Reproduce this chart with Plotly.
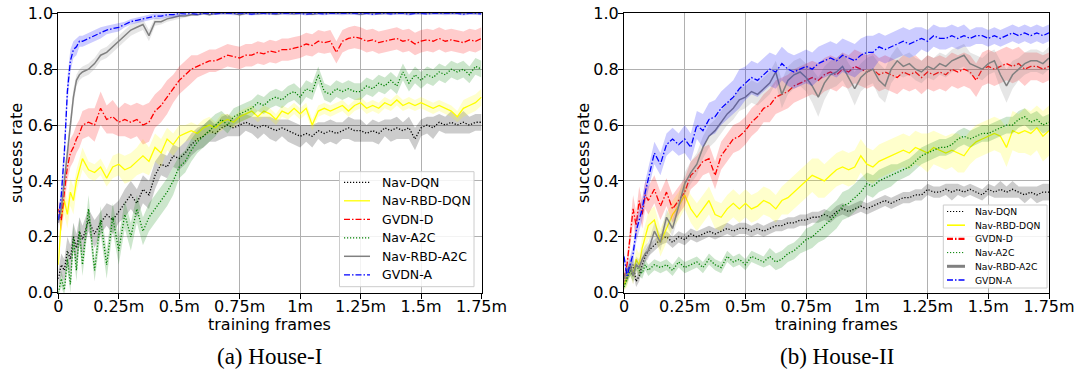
import plotly.graph_objects as go

# ---------------- data (training frames in millions) ----------------
frames_m = [0, 0.0125, 0.025, 0.0375, 0.05, 0.0625, 0.075, 0.0875, 0.1,
            0.125, 0.15, 0.175, 0.2, 0.225, 0.25, 0.275, 0.3,
            0.325, 0.35, 0.375, 0.4, 0.425, 0.45, 0.475, 0.5,
            0.525, 0.55, 0.575, 0.6, 0.625, 0.65, 0.675, 0.7,
            0.725, 0.75, 0.775, 0.8, 0.825, 0.85, 0.875, 0.9,
            0.925, 0.95, 0.975, 1.0, 1.025, 1.05, 1.075, 1.1,
            1.125, 1.15, 1.175, 1.2, 1.225, 1.25, 1.275, 1.3,
            1.325, 1.35, 1.375, 1.4, 1.425, 1.45, 1.475, 1.5,
            1.525, 1.55, 1.575, 1.6, 1.625, 1.65, 1.675, 1.7,
            1.725, 1.75]

x_tickvals = [0, 0.25, 0.5, 0.75, 1.0, 1.25, 1.5, 1.75]
x_ticktext = ["0", "0.25m", "0.5m", "0.75m", "1m", "1.25m", "1.5m", "1.75m"]
y_tickvals = [0, 0.2, 0.4, 0.6, 0.8, 1.0]
y_ticktext = ["0.0", "0.2", "0.4", "0.6", "0.8", "1.0"]

series_names = ["Nav-DQN", "Nav-RBD-DQN", "GVDN-D", "Nav-A2C", "Nav-RBD-A2C", "GVDN-A"]
panel_titles = ["(a) House-I", "(b) House-II"]

# ---- House-I ----
h1_nav_dqn = [0.05, 0.10, 0.08, 0.15, 0.12, 0.20, 0.16, 0.22, 0.19,
              0.26, 0.21, 0.25, 0.28, 0.26, 0.29, 0.32, 0.35,
              0.32, 0.37, 0.35, 0.42, 0.46, 0.45, 0.49, 0.48,
              0.50, 0.53, 0.55, 0.56, 0.58, 0.57, 0.59, 0.60,
              0.59, 0.60, 0.61, 0.60, 0.59, 0.60, 0.59, 0.58,
              0.59, 0.58, 0.57, 0.56, 0.57, 0.56, 0.58, 0.57,
              0.58, 0.57, 0.58, 0.59, 0.58, 0.58, 0.57, 0.58,
              0.57, 0.59, 0.58, 0.59, 0.58, 0.59, 0.55, 0.59,
              0.60, 0.59, 0.61, 0.60, 0.61, 0.60, 0.61, 0.60,
              0.61, 0.61]
h1_nav_dqn_sd = [0.03, 0.04, 0.04, 0.05, 0.05, 0.05, 0.05, 0.05, 0.05,
                 0.04, 0.05, 0.04, 0.04, 0.05, 0.04, 0.05, 0.05,
                 0.05, 0.05, 0.05, 0.05, 0.04, 0.04, 0.04, 0.04,
                 0.04, 0.04, 0.04, 0.04, 0.04, 0.03, 0.04, 0.04,
                 0.03, 0.04, 0.03, 0.03, 0.04, 0.03, 0.04, 0.04,
                 0.03, 0.04, 0.04, 0.04, 0.03, 0.04, 0.03, 0.04,
                 0.04, 0.04, 0.03, 0.04, 0.04, 0.04, 0.03, 0.04,
                 0.04, 0.03, 0.04, 0.04, 0.03, 0.04, 0.04, 0.03,
                 0.03, 0.04, 0.03, 0.03, 0.04, 0.03, 0.04, 0.03,
                 0.03, 0.03]

h1_nav_rbd_dqn = [0.10, 0.27, 0.33, 0.28, 0.36, 0.33, 0.40, 0.44, 0.48,
                  0.44, 0.43, 0.45, 0.41, 0.45, 0.46, 0.44, 0.45,
                  0.47, 0.49, 0.47, 0.52, 0.50, 0.55, 0.53, 0.56,
                  0.57, 0.58, 0.57, 0.59, 0.60, 0.59, 0.61, 0.62,
                  0.61, 0.63, 0.64, 0.65, 0.63, 0.65, 0.64, 0.62,
                  0.65, 0.64, 0.66, 0.64, 0.66, 0.60, 0.65, 0.66,
                  0.65, 0.66, 0.67, 0.65, 0.67, 0.68, 0.66, 0.67,
                  0.66, 0.68, 0.67, 0.69, 0.67, 0.68, 0.67, 0.68,
                  0.67, 0.66, 0.67, 0.66, 0.65, 0.63, 0.66, 0.67,
                  0.68, 0.70]
h1_nav_rbd_dqn_sd = [0.02, 0.05, 0.05, 0.05, 0.05, 0.05, 0.04, 0.04, 0.04,
                     0.03, 0.03, 0.03, 0.03, 0.04, 0.04, 0.05, 0.05,
                     0.05, 0.06, 0.05, 0.05, 0.05, 0.04, 0.04, 0.04,
                     0.03, 0.03, 0.03, 0.03, 0.03, 0.02, 0.03, 0.02,
                     0.02, 0.02, 0.02, 0.02, 0.02, 0.02, 0.02, 0.02,
                     0.02, 0.02, 0.02, 0.02, 0.02, 0.02, 0.02, 0.02,
                     0.02, 0.02, 0.02, 0.02, 0.02, 0.02, 0.02, 0.02,
                     0.02, 0.02, 0.02, 0.02, 0.02, 0.02, 0.02, 0.02,
                     0.02, 0.02, 0.02, 0.02, 0.02, 0.02, 0.03, 0.03,
                     0.03, 0.03]

h1_gvdn_d = [0.30, 0.26, 0.36, 0.45, 0.50, 0.52, 0.55, 0.57, 0.60,
             0.61, 0.60, 0.66, 0.62, 0.63, 0.61, 0.62, 0.61,
             0.62, 0.60, 0.61, 0.65, 0.67, 0.70, 0.73, 0.76,
             0.78, 0.80, 0.81, 0.82, 0.83, 0.83, 0.84, 0.85,
             0.845, 0.84, 0.85, 0.85, 0.86, 0.855, 0.865, 0.86,
             0.87, 0.87, 0.875, 0.88, 0.89, 0.885, 0.90, 0.895,
             0.90, 0.86, 0.90, 0.91, 0.915, 0.91, 0.90, 0.905,
             0.895, 0.90, 0.905, 0.91, 0.90, 0.905, 0.89, 0.90,
             0.905, 0.90, 0.91, 0.90, 0.905, 0.90, 0.895, 0.905,
             0.90, 0.91]
h1_gvdn_d_sd = [0.03, 0.04, 0.05, 0.05, 0.05, 0.05, 0.05, 0.05, 0.05,
                0.05, 0.06, 0.06, 0.05, 0.06, 0.05, 0.06, 0.06,
                0.06, 0.07, 0.07, 0.06, 0.06, 0.06, 0.05, 0.05,
                0.05, 0.05, 0.04, 0.04, 0.04, 0.04, 0.04, 0.04,
                0.04, 0.04, 0.04, 0.04, 0.04, 0.04, 0.04, 0.04,
                0.04, 0.04, 0.04, 0.04, 0.04, 0.04, 0.04, 0.04,
                0.04, 0.04, 0.04, 0.04, 0.04, 0.04, 0.04, 0.04,
                0.04, 0.04, 0.04, 0.04, 0.04, 0.04, 0.04, 0.04,
                0.04, 0.04, 0.04, 0.04, 0.04, 0.04, 0.04, 0.04,
                0.04, 0.04]

h1_nav_a2c = [0.00, 0.05, 0.01, 0.12, 0.03, 0.20, 0.08, 0.22, 0.10,
              0.30, 0.08, 0.26, 0.10, 0.27, 0.15, 0.28, 0.20,
              0.30, 0.22, 0.27, 0.30, 0.33, 0.36, 0.40, 0.45,
              0.47, 0.51, 0.54, 0.56, 0.58, 0.60, 0.62, 0.60,
              0.63, 0.64, 0.65, 0.66, 0.68, 0.67, 0.69, 0.70,
              0.69, 0.71, 0.72, 0.70, 0.73, 0.72, 0.78, 0.72,
              0.71, 0.73, 0.72, 0.73, 0.72, 0.72, 0.74, 0.73,
              0.75, 0.74, 0.76, 0.74, 0.79, 0.75, 0.78, 0.76,
              0.78, 0.77, 0.79, 0.78, 0.80, 0.79, 0.80, 0.78,
              0.81, 0.80]
h1_nav_a2c_sd = [0.01, 0.03, 0.02, 0.04, 0.03, 0.05, 0.04, 0.05, 0.04,
                 0.05, 0.04, 0.05, 0.05, 0.05, 0.05, 0.05, 0.05,
                 0.05, 0.05, 0.05, 0.05, 0.05, 0.05, 0.05, 0.04,
                 0.04, 0.04, 0.04, 0.04, 0.04, 0.04, 0.03, 0.03,
                 0.03, 0.03, 0.03, 0.03, 0.03, 0.03, 0.03, 0.03,
                 0.03, 0.03, 0.03, 0.03, 0.03, 0.03, 0.03, 0.03,
                 0.03, 0.03, 0.03, 0.03, 0.03, 0.03, 0.03, 0.03,
                 0.03, 0.03, 0.03, 0.03, 0.03, 0.03, 0.03, 0.03,
                 0.03, 0.03, 0.03, 0.03, 0.03, 0.03, 0.03, 0.03,
                 0.03, 0.03]

h1_nav_rbd_a2c = [0.25, 0.30, 0.40, 0.50, 0.60, 0.70, 0.76, 0.78, 0.79,
                  0.80, 0.82, 0.85, 0.86, 0.88, 0.90, 0.92, 0.94,
                  0.95, 0.96, 0.92, 0.97, 0.97, 0.98, 0.985, 0.99,
                  0.99, 0.995, 0.995, 1.0, 0.995, 1.0, 1.0, 1.0,
                  1.0, 0.995, 1.0, 1.0, 0.998, 1.0, 1.0, 0.997,
                  1.0, 1.0, 0.998, 1.0, 1.0, 0.997, 1.0, 1.0,
                  1.0, 0.998, 1.0, 1.0, 1.0, 0.997, 1.0, 1.0,
                  0.998, 1.0, 1.0, 1.0, 0.998, 1.0, 1.0, 1.0,
                  1.0, 0.998, 1.0, 1.0, 1.0, 0.998, 1.0, 1.0,
                  1.0, 1.0]
h1_nav_rbd_a2c_sd = [0.02, 0.03, 0.03, 0.03, 0.03, 0.03, 0.02, 0.02, 0.02,
                     0.02, 0.02, 0.02, 0.02, 0.02, 0.02, 0.02, 0.02,
                     0.02, 0.02, 0.02, 0.015, 0.01, 0.01, 0.01, 0.01,
                     0.005, 0.005, 0.005, 0.005, 0.005, 0.005, 0.005, 0.005,
                     0.005, 0.005, 0.005, 0.005, 0.005, 0.005, 0.005, 0.005,
                     0.005, 0.005, 0.005, 0.005, 0.005, 0.005, 0.005, 0.005,
                     0.005, 0.005, 0.005, 0.005, 0.005, 0.005, 0.005, 0.005,
                     0.005, 0.005, 0.005, 0.005, 0.005, 0.005, 0.005, 0.005,
                     0.005, 0.005, 0.005, 0.005, 0.005, 0.005, 0.005, 0.005,
                     0.005, 0.005]

h1_gvdn_a = [0.26, 0.35, 0.50, 0.72, 0.83, 0.87, 0.88, 0.90, 0.90,
             0.91, 0.92, 0.93, 0.94, 0.945, 0.95, 0.96, 0.97,
             0.975, 0.98, 0.985, 0.99, 0.99, 0.995, 0.995, 1.0,
             0.998, 1.0, 0.997, 1.0, 1.0, 0.998, 1.0, 1.0,
             0.998, 1.0, 1.0, 0.997, 1.0, 1.0, 0.998, 1.0,
             1.0, 0.998, 1.0, 1.0, 0.997, 1.0, 1.0, 0.998,
             1.0, 1.0, 0.998, 1.0, 1.0, 0.998, 1.0, 0.997,
             1.0, 1.0, 0.998, 1.0, 1.0, 0.997, 1.0, 1.0,
             0.998, 1.0, 1.0, 0.998, 1.0, 1.0, 0.997, 1.0,
             1.0, 0.998]
h1_gvdn_a_sd = [0.02, 0.04, 0.05, 0.05, 0.04, 0.03, 0.03, 0.02, 0.02,
                0.02, 0.02, 0.02, 0.015, 0.015, 0.015, 0.01, 0.01,
                0.01, 0.01, 0.01, 0.01, 0.01, 0.01, 0.01, 0.01,
                0.005, 0.005, 0.005, 0.005, 0.005, 0.005, 0.005, 0.005,
                0.005, 0.005, 0.005, 0.005, 0.005, 0.005, 0.005, 0.005,
                0.005, 0.005, 0.005, 0.005, 0.005, 0.005, 0.005, 0.005,
                0.005, 0.005, 0.005, 0.005, 0.005, 0.005, 0.005, 0.005,
                0.005, 0.005, 0.005, 0.005, 0.005, 0.005, 0.005, 0.005,
                0.005, 0.005, 0.005, 0.005, 0.005, 0.005, 0.005, 0.005,
                0.005, 0.005]

# ---- House-II ----
h2_nav_dqn = [0.03, 0.06, 0.08, 0.10, 0.04, 0.06, 0.10, 0.13, 0.15,
              0.17, 0.19, 0.20, 0.18, 0.20, 0.19, 0.21, 0.20,
              0.21, 0.22, 0.21, 0.22, 0.23, 0.22, 0.23, 0.23,
              0.22, 0.23, 0.22, 0.23, 0.24, 0.24, 0.25, 0.25,
              0.26, 0.26, 0.27, 0.27, 0.28, 0.27, 0.29, 0.30,
              0.29, 0.30, 0.31, 0.30, 0.31, 0.32, 0.33, 0.32,
              0.33, 0.34, 0.34, 0.35, 0.35, 0.37, 0.36, 0.36,
              0.37, 0.36, 0.37, 0.36, 0.37, 0.36, 0.35, 0.37,
              0.36, 0.37, 0.36, 0.37, 0.36, 0.35, 0.36, 0.35,
              0.36, 0.36]
h2_nav_dqn_sd = [0.01, 0.02, 0.02, 0.03, 0.02, 0.02, 0.02, 0.02, 0.02,
                 0.02, 0.02, 0.02, 0.02, 0.02, 0.02, 0.02, 0.02,
                 0.02, 0.02, 0.02, 0.02, 0.02, 0.02, 0.02, 0.02,
                 0.02, 0.02, 0.02, 0.02, 0.02, 0.02, 0.02, 0.02,
                 0.02, 0.02, 0.02, 0.02, 0.02, 0.02, 0.02, 0.02,
                 0.02, 0.02, 0.02, 0.02, 0.02, 0.02, 0.02, 0.02,
                 0.02, 0.02, 0.02, 0.02, 0.02, 0.02, 0.02, 0.02,
                 0.02, 0.03, 0.02, 0.02, 0.02, 0.02, 0.02, 0.02,
                 0.02, 0.03, 0.02, 0.03, 0.02, 0.03, 0.02, 0.03,
                 0.03, 0.03]

h2_nav_rbd_dqn = [0.03, 0.05, 0.09, 0.06, 0.12, 0.10, 0.16, 0.20, 0.24,
                  0.26, 0.18, 0.23, 0.28, 0.31, 0.35, 0.30, 0.27,
                  0.30, 0.33, 0.28, 0.27, 0.30, 0.32, 0.30, 0.32,
                  0.30, 0.31, 0.33, 0.32, 0.30, 0.33, 0.34, 0.36,
                  0.38, 0.40, 0.42, 0.41, 0.40, 0.42, 0.44, 0.45,
                  0.44, 0.45, 0.49, 0.46, 0.45, 0.47, 0.48, 0.49,
                  0.50, 0.51, 0.50, 0.52, 0.51, 0.50, 0.52, 0.51,
                  0.50, 0.51, 0.50, 0.49, 0.52, 0.54, 0.55, 0.56,
                  0.57, 0.56, 0.52, 0.58, 0.57, 0.58, 0.57, 0.59,
                  0.56, 0.58]
h2_nav_rbd_dqn_sd = [0.02, 0.03, 0.03, 0.03, 0.04, 0.04, 0.04, 0.05, 0.05,
                     0.05, 0.05, 0.05, 0.05, 0.05, 0.05, 0.05, 0.05,
                     0.05, 0.05, 0.05, 0.05, 0.05, 0.05, 0.05, 0.05,
                     0.05, 0.05, 0.05, 0.05, 0.05, 0.05, 0.06, 0.06,
                     0.06, 0.06, 0.06, 0.07, 0.06, 0.06, 0.06, 0.06,
                     0.06, 0.06, 0.06, 0.06, 0.06, 0.06, 0.06, 0.06,
                     0.06, 0.06, 0.06, 0.06, 0.06, 0.07, 0.06, 0.06,
                     0.06, 0.06, 0.07, 0.06, 0.06, 0.06, 0.06, 0.06,
                     0.06, 0.06, 0.07, 0.07, 0.07, 0.08, 0.08, 0.08,
                     0.09, 0.09]

h2_gvdn_d = [0.05, 0.10, 0.20, 0.30, 0.24, 0.33, 0.28, 0.35, 0.33,
             0.37, 0.31, 0.36, 0.30, 0.33, 0.36, 0.42, 0.44,
             0.47, 0.48, 0.42, 0.49, 0.52, 0.55, 0.56, 0.58,
             0.61, 0.63, 0.66, 0.67, 0.70, 0.71, 0.72, 0.74,
             0.75, 0.76, 0.77, 0.76, 0.78, 0.79, 0.78, 0.80,
             0.79, 0.81, 0.80, 0.79, 0.80, 0.78, 0.79, 0.78,
             0.77, 0.79, 0.78, 0.79, 0.77, 0.79, 0.78, 0.79,
             0.78, 0.80, 0.79, 0.80, 0.79, 0.76, 0.80, 0.81,
             0.80, 0.81, 0.82, 0.81, 0.82, 0.80, 0.81, 0.81,
             0.80, 0.81]
h2_gvdn_d_sd = [0.02, 0.03, 0.04, 0.05, 0.05, 0.05, 0.05, 0.05, 0.05,
                0.05, 0.05, 0.05, 0.05, 0.05, 0.05, 0.05, 0.05,
                0.05, 0.05, 0.05, 0.05, 0.05, 0.05, 0.05, 0.05,
                0.05, 0.05, 0.05, 0.06, 0.06, 0.06, 0.06, 0.06,
                0.06, 0.06, 0.06, 0.06, 0.06, 0.06, 0.06, 0.06,
                0.06, 0.06, 0.06, 0.06, 0.06, 0.06, 0.06, 0.06,
                0.06, 0.06, 0.06, 0.06, 0.06, 0.06, 0.06, 0.06,
                0.06, 0.06, 0.06, 0.06, 0.06, 0.06, 0.06, 0.06,
                0.06, 0.06, 0.06, 0.06, 0.06, 0.06, 0.05, 0.05,
                0.05, 0.05]

h2_nav_a2c = [0.02, 0.05, 0.08, 0.06, 0.10, 0.08, 0.07, 0.10, 0.08,
              0.10, 0.09, 0.10, 0.08, 0.11, 0.09, 0.10, 0.11,
              0.09, 0.12, 0.10, 0.09, 0.13, 0.11, 0.12, 0.10,
              0.13, 0.12, 0.11, 0.13, 0.11, 0.12, 0.14, 0.15,
              0.17, 0.19, 0.20, 0.22, 0.24, 0.26, 0.28, 0.31,
              0.32, 0.34, 0.36, 0.39, 0.38, 0.40, 0.41, 0.42,
              0.43, 0.44, 0.45, 0.47, 0.49, 0.50, 0.51, 0.52,
              0.52, 0.53, 0.55, 0.56, 0.55, 0.56, 0.57, 0.57,
              0.58, 0.59, 0.60, 0.60, 0.62, 0.63, 0.61, 0.62,
              0.60, 0.61]
h2_nav_a2c_sd = [0.01, 0.02, 0.02, 0.02, 0.02, 0.02, 0.02, 0.02, 0.02,
                 0.02, 0.02, 0.02, 0.02, 0.02, 0.02, 0.02, 0.02,
                 0.02, 0.02, 0.02, 0.02, 0.02, 0.02, 0.02, 0.02,
                 0.02, 0.02, 0.02, 0.03, 0.03, 0.03, 0.03, 0.03,
                 0.03, 0.04, 0.04, 0.04, 0.05, 0.05, 0.05, 0.05,
                 0.05, 0.05, 0.05, 0.04, 0.04, 0.04, 0.04, 0.04,
                 0.03, 0.03, 0.03, 0.03, 0.03, 0.03, 0.03, 0.03,
                 0.03, 0.03, 0.03, 0.03, 0.03, 0.03, 0.03, 0.03,
                 0.03, 0.03, 0.03, 0.03, 0.03, 0.03, 0.03, 0.03,
                 0.03, 0.03]

h2_nav_rbd_a2c = [0.05, 0.08, 0.10, 0.06, 0.10, 0.09, 0.12, 0.14, 0.15,
                  0.22, 0.18, 0.27, 0.23, 0.31, 0.39, 0.43, 0.46,
                  0.52, 0.56, 0.58, 0.61, 0.64, 0.66, 0.69, 0.70,
                  0.72, 0.71, 0.73, 0.75, 0.79, 0.71, 0.76, 0.78,
                  0.79, 0.77, 0.74, 0.70, 0.75, 0.78, 0.79, 0.81,
                  0.77, 0.73, 0.77, 0.79, 0.80, 0.76, 0.74, 0.80,
                  0.83, 0.81, 0.82, 0.80, 0.79, 0.81, 0.80, 0.82,
                  0.81, 0.83, 0.84, 0.85, 0.82, 0.81, 0.80, 0.82,
                  0.83, 0.78, 0.74, 0.78, 0.80, 0.82, 0.83, 0.83,
                  0.82, 0.84]
h2_nav_rbd_a2c_sd = [0.02, 0.02, 0.03, 0.03, 0.03, 0.03, 0.03, 0.03, 0.03,
                     0.03, 0.03, 0.03, 0.03, 0.04, 0.04, 0.04, 0.04,
                     0.04, 0.04, 0.04, 0.04, 0.04, 0.04, 0.04, 0.04,
                     0.04, 0.04, 0.04, 0.04, 0.04, 0.05, 0.05, 0.05,
                     0.05, 0.05, 0.06, 0.07, 0.06, 0.05, 0.05, 0.05,
                     0.05, 0.06, 0.05, 0.05, 0.05, 0.06, 0.06, 0.05,
                     0.05, 0.04, 0.04, 0.04, 0.04, 0.04, 0.04, 0.04,
                     0.04, 0.04, 0.04, 0.04, 0.04, 0.04, 0.04, 0.04,
                     0.04, 0.05, 0.06, 0.05, 0.04, 0.04, 0.04, 0.04,
                     0.04, 0.04]

h2_gvdn_a = [0.13, 0.06, 0.10, 0.14, 0.22, 0.26, 0.30, 0.36, 0.41,
             0.50, 0.46, 0.53, 0.55, 0.53, 0.55, 0.52, 0.60,
             0.58, 0.62, 0.63, 0.66, 0.68, 0.70, 0.73, 0.75,
             0.77, 0.76, 0.78, 0.80, 0.79, 0.82, 0.80, 0.79,
             0.80, 0.81, 0.80, 0.82, 0.83, 0.84, 0.83, 0.85,
             0.84, 0.83, 0.85, 0.86, 0.86, 0.88, 0.87, 0.88,
             0.89, 0.90, 0.89, 0.90, 0.91, 0.90, 0.92, 0.91,
             0.91, 0.92, 0.91, 0.92, 0.91, 0.92, 0.92, 0.91,
             0.92, 0.91, 0.92, 0.93, 0.92, 0.93, 0.92, 0.93,
             0.92, 0.93]
h2_gvdn_a_sd = [0.02, 0.02, 0.03, 0.03, 0.04, 0.04, 0.04, 0.04, 0.04,
                0.04, 0.04, 0.04, 0.04, 0.04, 0.05, 0.05, 0.05,
                0.06, 0.06, 0.06, 0.06, 0.06, 0.06, 0.07, 0.06,
                0.06, 0.06, 0.06, 0.06, 0.06, 0.06, 0.06, 0.06,
                0.06, 0.06, 0.06, 0.06, 0.06, 0.06, 0.06, 0.06,
                0.06, 0.06, 0.06, 0.06, 0.06, 0.05, 0.05, 0.05,
                0.05, 0.05, 0.05, 0.05, 0.04, 0.04, 0.04, 0.04,
                0.04, 0.04, 0.04, 0.04, 0.03, 0.03, 0.03, 0.03,
                0.03, 0.03, 0.03, 0.03, 0.03, 0.03, 0.03, 0.03,
                0.03, 0.03]

house1 = [(h1_nav_dqn, h1_nav_dqn_sd), (h1_nav_rbd_dqn, h1_nav_rbd_dqn_sd),
          (h1_gvdn_d, h1_gvdn_d_sd), (h1_nav_a2c, h1_nav_a2c_sd),
          (h1_nav_rbd_a2c, h1_nav_rbd_a2c_sd), (h1_gvdn_a, h1_gvdn_a_sd)]
house2 = [(h2_nav_dqn, h2_nav_dqn_sd), (h2_nav_rbd_dqn, h2_nav_rbd_dqn_sd),
          (h2_gvdn_d, h2_gvdn_d_sd), (h2_nav_a2c, h2_nav_a2c_sd),
          (h2_nav_rbd_a2c, h2_nav_rbd_a2c_sd), (h2_gvdn_a, h2_gvdn_a_sd)]

for grp in (house1, house2):
    for m, s in grp:
        if len(m) != len(frames_m) or len(s) != len(frames_m):
            raise ValueError("length mismatch %d %d" % (len(m), len(s)))

# ---------------- styles ----------------
line_colors = ["#000000", "#ffff00", "#ff0000", "#008000", "#808080", "#0000ff"]
band_colors = ["rgba(0,0,0,0.2)", "rgba(255,255,0,0.2)", "rgba(255,0,0,0.2)",
               "rgba(0,128,0,0.2)", "rgba(128,128,128,0.2)", "rgba(0,0,255,0.2)"]
DOT = "1.2px,1.8px"
DASHDOT = "6px,2px,1.5px,2px"
line_dashes = [DOT, "solid", DASHDOT, DOT, "solid", DASHDOT]
line_widths = [1.3, 1.3, 1.3, 1.3, 1.5, 1.3]

W, H = 1075, 378
def px_x(p):
    return p / W
def px_y(p):
    return 1 - p / H

fig = go.Figure()

panels = [
    dict(data=house1, xa="x", ya="y"),
    dict(data=house2, xa="x2", ya="y2"),
]

for pnl in panels:
    for k, (mean, sd) in enumerate(pnl["data"]):
        hi = [m + s for m, s in zip(mean, sd)]
        lo = [m - s for m, s in zip(mean, sd)]
        fig.add_trace(go.Scatter(
            x=frames_m + frames_m[::-1], y=hi + lo[::-1],
            fill="toself", fillcolor=band_colors[k],
            line=dict(width=0, color="rgba(0,0,0,0)"),
            mode="lines", showlegend=False, hoverinfo="skip",
            xaxis=pnl["xa"], yaxis=pnl["ya"]))
        fig.add_trace(go.Scatter(
            x=frames_m, y=mean, mode="lines", name=series_names[k],
            line=dict(color=line_colors[k], width=line_widths[k], dash=line_dashes[k]),
            xaxis=pnl["xa"], yaxis=pnl["ya"], showlegend=False))

axis_font = dict(family="DejaVu Sans", size=16, color="black")
common_x = dict(range=[0, 1.75], tickvals=x_tickvals, ticktext=x_ticktext,
                showgrid=True, gridcolor="#b0b0b0", gridwidth=1,
                showline=True, linecolor="black", linewidth=1, mirror=True,
                ticks="outside", ticklen=5, tickcolor="black", tickwidth=1,
                zeroline=False, tickfont=axis_font, automargin=False,
                ticklabelstandoff=-6, ticklabeloverflow="allow")
common_y = dict(range=[0, 1.0], tickvals=y_tickvals, ticktext=y_ticktext,
                showgrid=True, gridcolor="#b0b0b0", gridwidth=1,
                showline=True, linecolor="black", linewidth=1, mirror=True,
                ticks="outside", ticklen=5, tickcolor="black", tickwidth=1,
                zeroline=False, tickfont=axis_font, automargin=False,
                ticklabelstandoff=-4, ticklabeloverflow="allow")

y_dom = [px_y(292.7), px_y(13.3)]
fig.update_layout(
    width=W, height=H,
    margin=dict(l=0, r=0, t=0, b=0, autoexpand=False),
    paper_bgcolor="white", plot_bgcolor="white",
    font=dict(family="DejaVu Sans", color="black"),
    xaxis=dict(domain=[px_x(58.3), px_x(481.5)], anchor="y", **common_x),
    yaxis=dict(domain=y_dom, anchor="x", **common_y),
    xaxis2=dict(domain=[px_x(624), px_x(1049)], anchor="y2", **common_x),
    yaxis2=dict(domain=y_dom, anchor="x2", **common_y),
    showlegend=False,
)

shapes = []
annots = []

# ---- hand-built legends (matplotlib-like compact boxes) ----
legend_specs = [
    dict(box=(339.5, 474, 171.7, 286.7), line_x=(344, 370), text_x=380,
         row_y0=182.3, row_dy=18.5, size=12.5,
         widths=[1.3, 1.3, 1.3, 1.3, 1.5, 1.3]),
    dict(box=(943.3, 1047, 205, 288), line_x=(947, 965), text_x=973,
         row_y0=211.5, row_dy=13.7, size=9.2,
         widths=[1.0, 1.6, 2.2, 1.0, 3.0, 1.4]),
]
for spec in legend_specs:
    x0, x1, y0, y1 = spec["box"]
    shapes.append(dict(type="rect", xref="paper", yref="paper",
                       x0=px_x(x0), x1=px_x(x1), y0=px_y(y1), y1=px_y(y0),
                       line=dict(color="#cccccc", width=1),
                       fillcolor="rgba(255,255,255,0.85)", layer="above"))
    for k, name in enumerate(series_names):
        ry = spec["row_y0"] + k * spec["row_dy"]
        shapes.append(dict(type="line", xref="paper", yref="paper",
                           x0=px_x(spec["line_x"][0]), x1=px_x(spec["line_x"][1]),
                           y0=px_y(ry), y1=px_y(ry),
                           line=dict(color=line_colors[k], width=spec["widths"][k],
                                     dash=line_dashes[k]),
                           layer="above"))
        annots.append(dict(x=px_x(spec["text_x"]), y=px_y(ry), xref="paper", yref="paper",
                           text=name, showarrow=False, xanchor="left", yanchor="middle",
                           font=dict(family="DejaVu Sans", size=spec["size"], color="black")))

for cx, cap in [((58.3 + 481.5) / 2, panel_titles[0]), ((624 + 1049) / 2, panel_titles[1])]:
    annots.append(dict(x=px_x(cx), y=px_y(324), xref="paper", yref="paper",
                       text="training frames", showarrow=False,
                       xanchor="center", yanchor="middle",
                       font=dict(family="DejaVu Sans", size=16, color="black")))
    annots.append(dict(x=px_x(cx), y=px_y(356), xref="paper", yref="paper",
                       text=cap, showarrow=False, xanchor="center", yanchor="middle",
                       font=dict(family="Liberation Serif", size=23, color="black")))
for yx in (16, 583):
    annots.append(dict(x=px_x(yx), y=px_y(153), xref="paper", yref="paper",
                       text="success rate", showarrow=False, textangle=-90,
                       xanchor="center", yanchor="middle",
                       font=dict(family="DejaVu Sans", size=16, color="black")))
fig.update_layout(shapes=shapes, annotations=annots)

# the page body has a default 8px margin; remove it so the figure fills the window
fig.write_html("out.html", config={"displayModeBar": False},
               post_script="document.body.style.margin='0px';")
